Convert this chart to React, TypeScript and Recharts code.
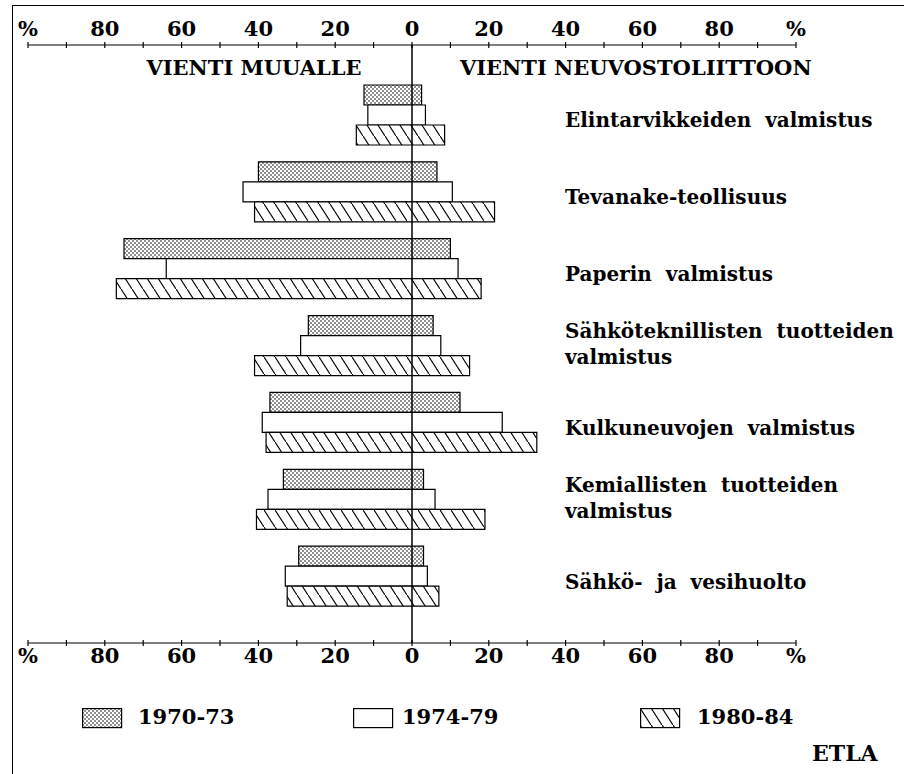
import React from 'react';
import { BarChart, Bar, XAxis, YAxis, ReferenceLine, Legend } from 'recharts';

// Industries (label lines as printed)
const categoryLines: string[][] = [
  ['Elintarvikkeiden valmistus'],
  ['Tevanake-teollisuus'],
  ['Paperin valmistus'],
  ['Sähköteknillisten tuotteiden', 'valmistus'],
  ['Kulkuneuvojen valmistus'],
  ['Kemiallisten tuotteiden', 'valmistus'],
  ['Sähkö- ja vesihuolto'],
];

const seriesNames = ['1970-73', '1974-79', '1980-84'];

// % exported elsewhere (VIENTI MUUALLE, drawn to the left)
const exportOther7073 = [12.5, 40, 75, 27, 37, 33.5, 29.5];
const exportOther7479 = [11.5, 44, 64, 29, 39, 37.5, 33];
const exportOther8084 = [14.5, 41, 77, 41, 38, 40.5, 32.5];

// % exported to the Soviet Union (VIENTI NEUVOSTOLIITTOON, drawn to the right)
const exportUSSR7073 = [2.5, 6.5, 10, 5.5, 12.5, 3, 3];
const exportUSSR7479 = [3.5, 10.5, 12, 7.5, 23.5, 6, 4];
const exportUSSR8084 = [8.5, 21.5, 18, 15, 32.5, 19, 7];

const axisTicks = [-100, -90, -80, -70, -60, -50, -40, -30, -20, -10, 0, 10, 20, 30, 40, 50, 60, 70, 80, 90, 100];

const data = categoryLines.map((lines, i) => ({
  name: lines.join(' '),
  p7073: [-exportOther7073[i], exportUSSR7073[i]],
  p7479: [-exportOther7479[i], exportUSSR7479[i]],
  p8084: [-exportOther8084[i], exportUSSR8084[i]],
}));

const FONT = '"DejaVu Serif", "Liberation Serif", serif';
const seriesFills = ['url(#dots)', '#ffffff', 'url(#hatch)'];
const seriesKeys = ['p7073', 'p7479', 'p8084'];

const tickLabel = (v: number) => (Math.abs(v) === 100 ? '%' : v % 20 === 0 ? String(Math.abs(v)) : '');

const AxisTick = (props: any) => {
  const { x, y, payload, top } = props;
  const label = tickLabel(payload.value);
  return (
    <g>
      <line x1={x} x2={x} y1={y - 3} y2={y + 3} stroke="#000" strokeWidth={1.2} />
      {label && (
        <text x={x} y={top ? y - 9 : y + 20} textAnchor="middle" fontFamily={FONT} fontWeight="bold" fontSize={21} fill="#000">
          {label}
        </text>
      )}
    </g>
  );
};

const CategoryTick = (props: any) => {
  const { x, y, payload } = props;
  const idx = data.findIndex((d) => d.name === payload.value);
  const lines = idx >= 0 ? categoryLines[idx] : [String(payload.value)];
  const offsets = lines.length === 1 ? [13] : [-7, 19];
  const lx = x - 231;
  return (
    <text x={lx} y={y} fontFamily={FONT} fontWeight="bold" fontSize={20} fill="#000" textAnchor="start" style={{ wordSpacing: 7 }}>
      {lines.map((l, i) => (
        <tspan key={i} x={lx} y={y + offsets[i]}>
          {l}
        </tspan>
      ))}
    </text>
  );
};

const PatternDefs = ({ suffix = '' }: { suffix?: string }) => (
  <defs>
    <pattern id={'dots' + suffix} width="4" height="4" patternUnits="userSpaceOnUse">
      <rect width="4" height="4" fill="#fff" />
      <circle cx="1" cy="1" r="0.8" fill="#000" />
      <circle cx="3" cy="3" r="0.8" fill="#000" />
    </pattern>
    <pattern id={'hatch' + suffix} width="11" height="17" patternUnits="userSpaceOnUse">
      <rect width="11" height="17" fill="#fff" />
      <line x1="-1" y1="-1.545" x2="12" y2="18.545" stroke="#000" strokeWidth="1.2" />
    </pattern>
  </defs>
);

const legendSwatchX = [82, 353, 640];
const legendTextX = [138, 402, 697];

const LegendContent = () => (
  <div style={{ position: 'relative', width: 904, height: 40 }}>
    {seriesNames.map((n, i) => (
      <React.Fragment key={n}>
        <svg style={{ position: 'absolute', left: legendSwatchX[i], top: 8 }} width={41} height={21}>
          <PatternDefs suffix="-lg" />
          <rect x={0.6} y={0.6} width={39} height={19} fill={seriesFills[i].replace(')', '-lg)')} stroke="#000" strokeWidth={1.2} />
        </svg>
        <span
          style={{
            position: 'absolute',
            left: legendTextX[i],
            top: 4,
            fontFamily: FONT,
            fontWeight: 'bold',
            fontSize: 21,
            lineHeight: '26px',
            color: '#000',
            whiteSpace: 'nowrap',
          }}
        >
          {n}
        </span>
      </React.Fragment>
    ))}
  </div>
);

export default function App() {
  return (
    <div style={{ position: 'absolute', left: 0, top: 0, width: 904, height: 774, background: '#fff', overflow: 'hidden' }}>
      <div
        style={{
          position: 'absolute',
          left: 12,
          top: 5,
          width: 904,
          height: 780,
          borderLeft: '1.5px solid #000',
          borderTop: '1.5px solid #000',
        }}
      />
      <div style={{ position: 'absolute', left: 0, top: 0 }}>
        <BarChart
          width={904}
          height={774}
          data={data}
          layout="vertical"
          margin={{ top: 5, right: 107, bottom: 91, left: 28 }}
          barCategoryGap={9}
          barGap={0}
        >
          <PatternDefs />
          <XAxis
            xAxisId="top"
            orientation="top"
            type="number"
            domain={[-100, 100]}
            allowDataOverflow
            ticks={axisTicks}
            interval={0}
            height={40}
            tickSize={0}
            tickMargin={0}
            axisLine={{ stroke: '#000', strokeWidth: 1.2 }}
            tickLine={false}
            tick={(p: any) => <AxisTick {...p} top />}
          />
          <XAxis
            xAxisId="bottom"
            orientation="bottom"
            type="number"
            domain={[-100, 100]}
            allowDataOverflow
            ticks={axisTicks}
            interval={0}
            height={40}
            tickSize={0}
            tickMargin={0}
            axisLine={{ stroke: '#000', strokeWidth: 1.2 }}
            tickLine={false}
            tick={(p: any) => <AxisTick {...p} />}
          />
          <YAxis
            type="category"
            dataKey="name"
            orientation="right"
            width={1}
            interval={0}
            axisLine={false}
            tickLine={false}
            tickSize={0}
            tickMargin={0}
            padding={{ top: 31, bottom: 29 }}
            tick={(p: any) => <CategoryTick {...p} />}
          />
          {seriesKeys.map((k, i) => (
            <Bar
              key={k}
              xAxisId="bottom"
              dataKey={k}
              name={seriesNames[i]}
              fill={seriesFills[i]}
              stroke="#000"
              strokeWidth={1.2}
              isAnimationActive={false}
            />
          ))}
          <ReferenceLine xAxisId="bottom" x={0} stroke="#000" strokeWidth={1.5} />
          <Legend
            layout="horizontal"
            verticalAlign="middle"
            align="center"
            wrapperStyle={{ position: 'absolute', left: 0, top: 700, width: 904, height: 40 }}
            content={() => <LegendContent />}
          />
        </BarChart>
      </div>
      <div style={{ position: 'absolute', left: 254, top: 55, transform: 'translateX(-50%)', fontFamily: FONT, fontWeight: 'bold', fontSize: 21, whiteSpace: 'nowrap', color: '#000' }}>
        VIENTI MUUALLE
      </div>
      <div style={{ position: 'absolute', left: 460, top: 55, fontFamily: FONT, fontWeight: 'bold', fontSize: 21, whiteSpace: 'nowrap', color: '#000' }}>
        VIENTI NEUVOSTOLIITTOON
      </div>
      <div style={{ position: 'absolute', left: 812, top: 740, fontFamily: FONT, fontWeight: 'bold', fontSize: 22, whiteSpace: 'nowrap', color: '#000' }}>
        ETLA
      </div>
    </div>
  );
}
